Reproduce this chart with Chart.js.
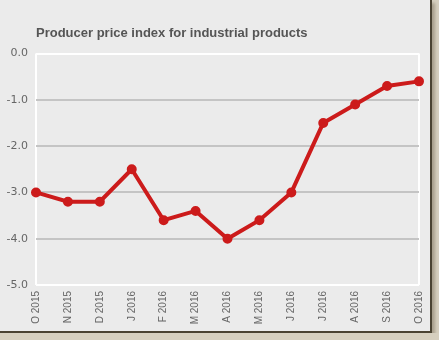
<!DOCTYPE html>
<html lang="en">
<head>
    <meta charset="UTF-8">
    <title>Producer price index for industrial products</title>
    <script src="https://cdn.jsdelivr.net/npm/chart.js"></script>
    <style>
        body { margin: 0; background: #d6cfbf; }
        .frame {
            width: 430px; height: 331px;
            background: #ebebeb;
            border-right: 2px solid #4a4232;
            border-bottom: 2px solid #4a4232;
            box-shadow: 3px 3px 3px #a89f8c;
        }
    </style>
</head>
<body>
    <div class="frame">
        <canvas id="ppi-chart" width="430" height="331"></canvas>
    </div>

    <script>
        // Data
        const months = ['O 2015', 'N 2015', 'D 2015', 'J 2016', 'F 2016', 'M 2016', 'A 2016',
                        'M 2016', 'J 2016', 'J 2016', 'A 2016', 'S 2016', 'O 2016'];
        const ppiValues = [-3.0, -3.2, -3.2, -2.5, -3.6, -3.4, -4.0, -3.6, -3.0, -1.5, -1.1, -0.7, -0.6];
        const yTicks = [0, -1, -2, -3, -4, -5];

        const red = '#cc1b1b';

        new Chart(document.getElementById('ppi-chart'), {
            type: 'line',
            data: {
                labels: months,
                datasets: [{
                    data: ppiValues,
                    borderColor: red,
                    backgroundColor: red,
                    borderWidth: 4,
                    pointRadius: 3,
                    pointBackgroundColor: red,
                    pointBorderColor: red,
                    tension: 0
                }]
            },
            options: {
                responsive: false,
                animation: false,
                layout: { padding: { left: 0, right: 11, top: 0, bottom: 0 } },
                plugins: {
                    legend: { display: false },
                    tooltip: { enabled: false },
                    title: {
                        display: true,
                        fullSize: false,
                        text: 'Producer price index for industrial products',
                        align: 'start',
                        color: '#555555',
                        font: { family: 'Liberation Sans, Arial, sans-serif', size: 13, weight: 'bold' },
                        padding: { top: 26, bottom: 12 }
                    }
                },
                scales: {
                    x: {
                        offset: false,
                        border: { display: false },
                        grid: {
                            color: ctx => (ctx.index === 0 || ctx.index === months.length - 1) ? '#ffffff' : 'transparent',
                            lineWidth: 2,
                            drawTicks: false
                        },
                        ticks: {
                            color: '#666666',
                            font: { family: 'Liberation Sans, Arial, sans-serif', size: 10 },
                            minRotation: 90,
                            maxRotation: 90,
                            padding: 6,
                            autoSkip: false
                        },
                        afterFit: scale => {
                            scale.height = 46;
                            scale.paddingLeft = 0;
                            scale.paddingRight = 0;
                        }
                    },
                    y: {
                        min: -5,
                        max: 0,
                        border: { display: false },
                        afterBuildTicks: scale => { scale.ticks = yTicks.map(v => ({ value: v })); },
                        grid: {
                            color: ctx => (ctx.tick.value === 0 || ctx.tick.value === -5) ? '#ffffff' : '#c4c4c4',
                            lineWidth: 2,
                            drawTicks: false
                        },
                        ticks: {
                            color: '#666666',
                            font: { family: 'DejaVu Sans, Verdana, sans-serif', size: 11 },
                            padding: 8,
                            callback: v => v.toFixed(1)
                        },
                        afterFit: scale => { scale.width = 36; }
                    }
                }
            }
        });
    </script>
</body>
</html>
